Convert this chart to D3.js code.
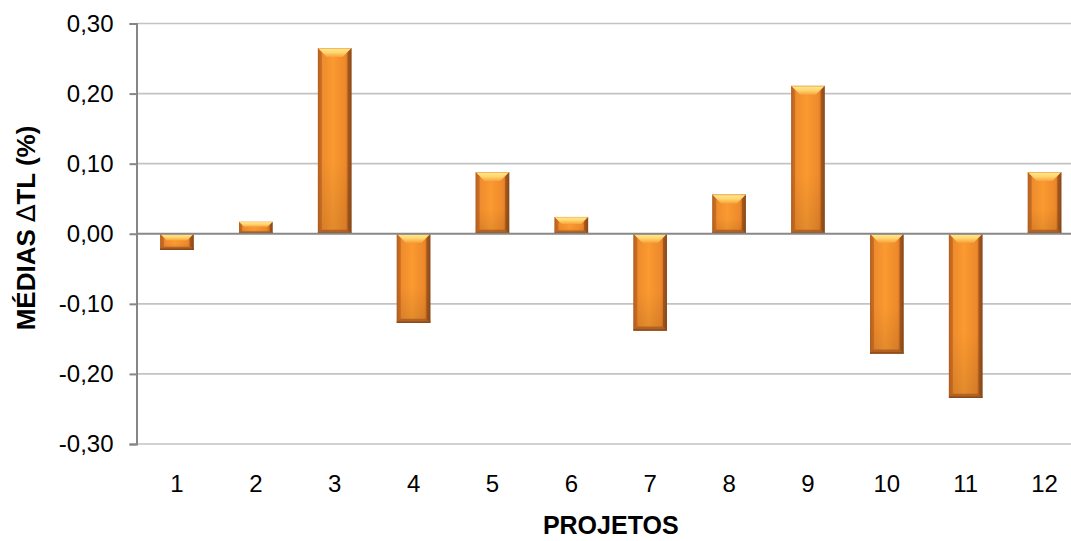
<!DOCTYPE html>
<html>
<head>
<meta charset="utf-8">
<script src="https://cdn.jsdelivr.net/npm/d3@7/dist/d3.min.js"></script>
<style>
  html, body { margin: 0; padding: 0; background: #ffffff; }
  svg { display: block; font-family: "Liberation Sans", Arial, sans-serif; }
</style>
</head>
<body>
<svg id="chart" width="1071" height="541"></svg>
<script>
// Projects and their mean ΔTL (%)
const projetos = ["1", "2", "3", "4", "5", "6", "7", "8", "9", "10", "11", "12"];
const medias = [-0.023, 0.017, 0.265, -0.127, 0.088, 0.024, -0.138, 0.056, 0.211, -0.171, -0.234, 0.088];
const yTicks = [-0.30, -0.20, -0.10, 0.00, 0.10, 0.20, 0.30];

const svg = d3.select("#chart");
const plotLeft = 137.5, plotRight = 1084, plotTop = 23.5, plotBottom = 444;

const x = d3.scaleBand().domain(projetos).range([plotLeft, plotRight])
  .paddingInner(0.574).paddingOuter(0.287);
const y = d3.scaleLinear().domain([-0.3, 0.3]).range([plotBottom, plotTop]);

const fmt = v => d3.format(".2f")(v).replace(".", ",").replace("−", "-");

// Gradients for the bevelled bars
const defs = svg.append("defs");
const body = defs.append("linearGradient").attr("id", "bodyGrad")
  .attr("x1", 0).attr("x2", 1).attr("y1", 0).attr("y2", 0);
[[0, "#b9631f"], [0.07, "#d97824"], [0.13, "#ef8b2d"], [0.45, "#fa9a30"],
 [0.82, "#ed892b"], [0.9, "#d47324"], [1, "#9a531e"]]
  .forEach(([o, c]) => body.append("stop").attr("offset", o).attr("stop-color", c));
const bodyV = defs.append("linearGradient").attr("id", "bodyShade")
  .attr("x1", 0).attr("x2", 0).attr("y1", 0).attr("y2", 1);
[[0, "#ffffff", 0.0], [0.6, "#000000", 0.0], [1, "#000000", 0.10]]
  .forEach(([o, c, a]) => bodyV.append("stop").attr("offset", o).attr("stop-color", c).attr("stop-opacity", a));
const topG = defs.append("linearGradient").attr("id", "topGrad")
  .attr("x1", 0).attr("x2", 0).attr("y1", 0).attr("y2", 1);
[[0, "#f4a040"], [0.15, "#ffe48a"], [0.5, "#ffd66e"], [1, "#f9a23c"]]
  .forEach(([o, c]) => topG.append("stop").attr("offset", o).attr("stop-color", c));

// Gridlines
svg.append("g").selectAll("line").data(yTicks.filter(t => t !== 0)).join("line")
  .attr("x1", plotLeft).attr("x2", plotRight)
  .attr("y1", d => y(d)).attr("y2", d => y(d))
  .attr("stroke", "#c3c3c3").attr("stroke-width", 1.6);

// Y axis with tick labels
const yAxis = svg.append("g").attr("transform", `translate(${plotLeft - 1},0)`)
  .call(d3.axisLeft(y).tickValues(yTicks).tickSize(7).tickPadding(16).tickFormat(fmt));
yAxis.select(".domain").attr("stroke", "#868686").attr("stroke-width", 2);
yAxis.selectAll(".tick line").attr("stroke", "#868686").attr("stroke-width", 2);
yAxis.selectAll(".tick text").attr("font-size", 24).attr("fill", "#000")
  .attr("font-family", "Liberation Sans, Arial, sans-serif");

// Bars
const bars = svg.append("g").selectAll("g").data(projetos.map((p, i) => ({ p, v: medias[i] }))).join("g");
bars.each(function (d) {
  const g = d3.select(this);
  const x0 = x(d.p), w = x.bandwidth();
  const yt = y(Math.max(0, d.v)), yb = y(Math.min(0, d.v));
  const h = yb - yt;
  const b = Math.min(9, h * 0.42);
  const bb = Math.min(4, h * 0.2);
  const side = Math.min(4, h * 0.25);
  g.append("rect").attr("x", x0).attr("y", yt).attr("width", w).attr("height", h)
    .attr("fill", "url(#bodyGrad)");
  g.append("rect").attr("x", x0).attr("y", yt).attr("width", w).attr("height", h)
    .attr("fill", "url(#bodyShade)");
  // side bevels
  g.append("polygon").attr("points", [[x0, yt], [x0 + side, yt + side], [x0 + side, yb - side], [x0, yb]].join(" "))
    .attr("fill", "#b25e20").attr("opacity", 0.55);
  g.append("polygon").attr("points", [[x0 + w, yt], [x0 + w - side, yt + side], [x0 + w - side, yb - side], [x0 + w, yb]].join(" "))
    .attr("fill", "#7c4216").attr("opacity", 0.55);
  // bottom bevel
  g.append("polygon").attr("points", [[x0, yb], [x0 + w, yb], [x0 + w - bb, yb - bb], [x0 + bb, yb - bb]].join(" "))
    .attr("fill", "#a65a22").attr("opacity", 0.8);
  // top highlight
  g.append("polygon").attr("points", [[x0, yt], [x0 + w, yt], [x0 + w - b, yt + b], [x0 + b, yt + b]].join(" "))
    .attr("fill", "url(#topGrad)");
  g.append("line").attr("x1", x0).attr("x2", x0 + w).attr("y1", yb - 0.5).attr("y2", yb - 0.5)
    .attr("stroke", "#8a4a1c").attr("stroke-width", 1.5);
});

// Zero line
svg.append("line").attr("x1", plotLeft - 1).attr("x2", plotRight)
  .attr("y1", y(0)).attr("y2", y(0))
  .attr("stroke", "#888888").attr("stroke-width", 2);

// Category labels
svg.append("g").selectAll("text").data(projetos).join("text")
  .attr("x", d => x(d) + x.bandwidth() / 2).attr("y", 492)
  .attr("text-anchor", "middle").attr("font-size", 24).attr("fill", "#000")
  .text(d => d);

// Axis titles
svg.append("text").attr("x", (plotLeft + plotRight) / 2).attr("y", 534)
  .attr("text-anchor", "middle").attr("font-size", 25).attr("font-weight", "bold")
  .text("PROJETOS");
const yTitle = svg.append("text").attr("transform", `translate(35,${228}) rotate(-90)`)
  .attr("text-anchor", "middle").attr("font-size", 26).attr("font-weight", "bold");
yTitle.append("tspan").text("MÉDIAS ");
yTitle.append("tspan").attr("font-weight", "normal").attr("font-family", "DejaVu Sans, sans-serif").text("∆");
yTitle.append("tspan").text("TL (%)");
</script>
</body>
</html>
